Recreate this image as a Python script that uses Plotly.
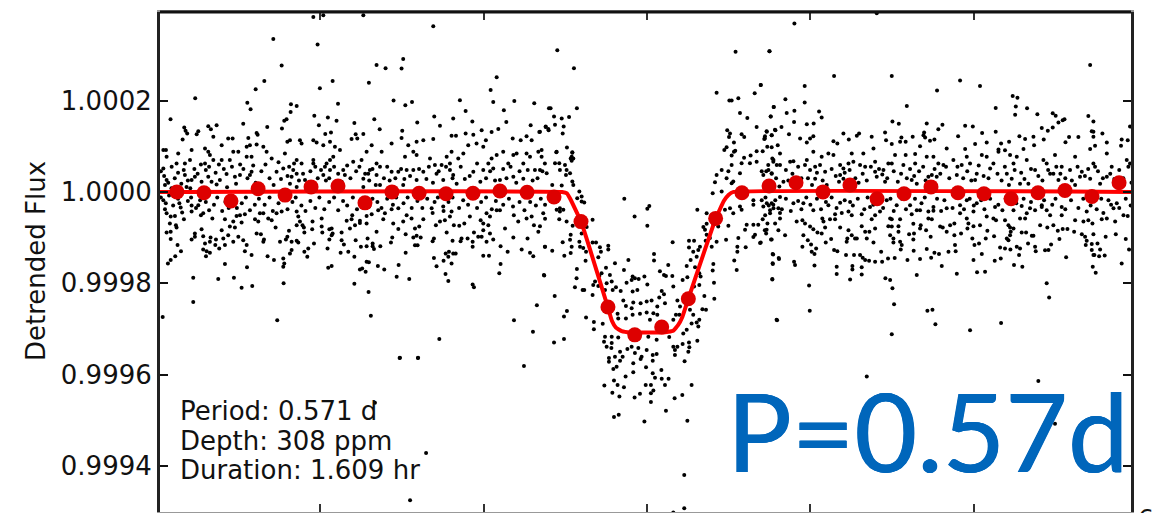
import plotly.graph_objects as go

# All dot values: (hours from mid-transit x 1000, flux offset in ppm)
dots_top_left = [(-2042,383),(-1981,387),(-1736,387),(-1308,363),(-2287,335),(-2016,323),(-2236,277),(-1655,278),(-1600,271),(-1492,291),(-1502,270),(-2342,243),(-1924,243),(-1702,239),(-2395,225),(-2002,227),(-2765,205),(-2446,195),(-2426,181),(-2179,192),(-2144,188),(-2181,175),(-1891,193),(-1551,200),(-1479,190),(-1438,197),(-1145,201),(-1110,177),(-920,251),(-957,223),(-941,197),(-812,199),(-690,194),(-876,179),(-600,183),
(-2916,159),(-2471,149),(-2206,159),(-2220,156),(-2036,167),(-1953,163),(-1900,156),(-1791,151),(-1669,159),(-1302,165),(-1186,161),(-1406,152),(-1069,154),(-861,153),(-1267,145),(-2008,146),(-2324,142),(-2234,139),(-1636,137),(-1498,134),(-2832,141),(-2685,144),(-2634,146),(-2824,134),(-2814,128),(-2746,133),(-2756,126),(-2669,137),(-2654,121),(-2389,129),(-2383,125),(-2440,118),(-1969,127),(-1934,130),(-1783,126),(-1736,127),(-1808,116),(-1773,117),(-712,146),(-620,143),(-604,138),(-910,138),(-1012,135),(-951,131),(-659,131),(-1110,128),(-1063,125),(-1196,123),(-1169,123),(-986,113),(-1308,116),(-1502,118),(-773,113),(-737,122),(-706,113),(-822,117),(-2842,115)]

dots_band_upper_left = [(-2960,92),(-2944,92),(-2940,77),(-2869,84),(-2879,62),(-2909,55),(-2960,51),(-2828,62),(-2797,70),(-2787,92),(-2828,37),(-2787,26),(-2767,33),(-2818,11),(-2940,26),(-2950,15),(-2705,95),(-2685,88),(-2675,81),(-2705,62),(-2654,70),(-2603,102),(-2563,117),(-2536,117),(-2603,70),(-2553,70),(-2501,88),(-2532,88),(-2450,99),(-2430,102),(-2450,77),(-2420,77),(-2389,104),(-2348,99),(-2328,88),(-2297,73),(-2420,44),(-2430,37),(-2491,37),(-2522,33),(-2573,39),(-2614,26),(-2634,16),(-2685,33),(-2726,22),(-2267,44),(-2226,51),(-2216,84),(-2201,110),(-2185,113),(-2124,113),(-2114,106),(-2144,70),(-2114,62),(-2165,48),(-2144,40),(-2175,33),(-2185,18),(-2144,11),(-2042,113),(-2022,108),(-1981,102),(-1940,110),(-1910,99),(-1879,92),(-1920,77),(-1940,70),(-1961,62),(-1971,55),(-2042,62),(-2042,70),(-2093,26),(-1981,37),(-1940,48),(-1859,48),(-1849,37),(-1869,22),(-1798,66),(-1747,70),(-1716,88),(-1685,102),(-1696,48),(-1655,62),(-1634,55),(-1624,88),(-1706,40),(-1736,29),(-1655,37),(-1634,15),(-1563,106),(-1481,77),(-1430,88),(-1461,102),(-1410,110),(-1369,113),(-1410,81),(-1471,48),(-1430,48),(-1369,44),(-1563,44),(-1522,44),(-1328,73),(-1298,59),(-1257,59),(-1196,88),(-1226,77),(-1206,62),(-1155,73),(-1124,84),(-1094,102),(-1043,106),(-1002,99),(-971,62),(-951,73),(-920,81),(-880,88),(-849,62),(-818,81),(-798,84),(-737,84),(-716,77),(-665,88),(-757,62),(-686,48),(-655,48),(-625,62),(-1206,48),(-1186,37),(-1247,26),(-1165,18),(-1002,48),(-941,51),(-900,26),(-818,33),(-757,29),(-1063,44),(-1288,40),(-1410,26),(-1492,15),(-1736,11)]

dots_band_lower_left = [(-2960,-18),(-2950,-38),(-2940,-47),(-2915,-54),(-2889,-53),(-2920,-69),(-2883,-73),(-2879,-78),(-2940,-89),(-2915,-87),(-2915,-103),(-2873,-116),(-2852,-130),(-2887,-141),(-2915,-149),(-2932,-157),(-2777,-188),(-2777,-241),(-2964,-274),(-2834,-60),(-2862,-25),(-2854,-34),(-2787,-30),(-2787,-43),(-2746,-29),(-2716,-47),(-2730,-51),(-2660,-58),(-2726,-82),(-2767,-91),(-2787,-104),(-2767,-98),(-2716,-97),(-2671,-100),(-2675,-109),(-2705,-113),(-2638,-104),(-2642,-116),(-2618,-124),(-2716,-126),(-2695,-130),(-2675,-133),(-2699,-141),(-2583,-158),(-2624,-191),(-2528,-188),(-2481,-210),(-2416,-206),(-2448,-165),(-2420,-138),(-2461,-130),(-2450,-116),(-2471,-106),(-2501,-98),(-2532,-109),(-2583,-116),(-2593,-102),(-2603,-84),(-2563,-95),(-2583,-60),(-2553,-76),(-2522,-78),(-2532,-65),(-2512,-53),(-2491,-51),(-2461,-49),(-2481,-67),(-2399,-60),(-2379,-65),(-2348,-47),(-2369,-47),(-2318,-58),(-2297,-62),(-2389,-91),(-2363,-93),(-2344,-104),(-2348,-109),(-2273,-78),(-2246,-109),(-2210,-104),(-2201,-98),(-2175,-109),(-2144,-107),(-2134,-111),(-2191,-85),(-2267,-47),(-2236,-43),(-2144,-43),(-2134,-54),(-2124,-65),(-2144,-73),(-2108,-73),(-2100,-78),(-2097,-89),(-2047,-65),(-2049,-82),(-1991,-58),(-1991,-76),(-1987,-89),(-1944,-82),(-1930,-80),(-1924,-91),(-1930,-95),(-1944,-104),(-1869,-89),(-1869,-106),(-1855,-115),(-1818,-80),(-1787,-73),(-1808,-60),(-1838,-63),(-1804,-51),(-1757,-63),(-1757,-68),(-1716,-69),(-1716,-53),(-1685,-49),(-1655,-87),(-1710,-102),(-1679,-113),(-1679,-119),(-1716,-119),(-1751,-120),(-1783,-106),(-1671,-125),(-1632,-119),(-1955,-124),(-1875,-133),(-1828,-131),(-1791,-142),(-2038,-113),(-2073,-124),(-2097,-131),(-2079,-142),(-2175,-127),(-2185,-135),(-2322,-141),(-2283,-149),(-2226,-146),(-2220,-157),(-2226,-164),(-2224,-200),(-2263,-281),(-1930,-162),(-1951,-166),(-1757,-170),(-1743,-168),(-1716,-153),(-1702,-154),(-1722,-175),(-1791,-201),(-1704,-219),(-1690,-271),(-1647,-162),(-1608,-170),(-1520,-160),(-1532,-186),(-1455,-191),(-1477,-133),(-1567,-111),(-1559,-100),(-1522,-81),(-1477,-93),(-1420,-80),(-1430,-100),(-1410,-96),(-1420,-117),(-1404,-117),(-1394,-76),(-1385,-100),(-1369,-60),(-1441,-58),(-1471,-51),(-1492,-65),(-1553,-69),(-1614,-60),(-1604,-47),(-1563,-38),(-1522,-36),(-1645,-40),
(-1304,-102),(-1312,-108),(-1292,-73),(-1237,-62),(-1226,-89),(-1190,-107),(-1232,-135),(-1212,-131),(-1186,-135),(-1171,-135),(-1304,-145),(-1245,-151),(-1216,-142),(-1196,-157),(-1288,-163),(-1233,-180),(-1216,-195),(-1182,-73),(-1149,-74),(-1118,-69),(-1135,-102),(-1141,-108),(-1098,-102),(-1067,-109),(-1067,-120),(-1059,-89),(-1018,-62),(-1002,-84),(-1033,-98),(-1012,-98),(-982,-109),(-941,-104),(-896,-119),(-1002,-140),(-967,-140),(-896,-158),(-904,-178),(-853,-131),(-767,-126),(-716,-133),(-696,-141),(-629,-183),(-1067,-203),(-1059,-209),(-814,-281),(-674,-248),(-698,-306),(-1271,-322),(-1514,-364),(-1402,-364),(-753,-381),(-971,-73),(-961,-91),(-920,-40),(-869,-80),(-818,-100),(-900,-40),(-815,-51),(-788,-65),(-737,-58),(-706,-54),(-692,-73),(-665,-87),(-655,-75),(-625,-120),(-731,-102),(-982,-47),(-961,-54),(-1002,-69),(-1084,-54),(-1196,-43),(-1206,-54),(-1247,-32),(-1318,-36),(-1312,-46),(-1267,-65),
(-1665,-462),(-1450,-675),(-1352,-572),(-1512,-363),(-1401,-363)]

dots_near_line_left = [(-2975,45),(-2955,35),(-2930,20),(-2910,8),(-2890,30),(-2870,42),(-2850,18),(-2835,48),(-2810,25),(-2795,8),(-2770,50),(-2750,40),(-2730,60),(-2700,48),(-2680,55),(-2665,22),(-2640,42),(-2620,60),(-2590,50),(-2570,10),(-2540,55),(-2515,18),(-2490,60),(-2470,50),(-2445,30),(-2410,58),(-2395,20),(-2360,45),(-2335,60),(-2310,30),(-2285,15),(-2255,65),(-2240,28),(-2200,35),(-2190,55),(-2160,62),(-2130,25),(-2105,40),(-2080,12),(-2060,45),(-2030,55),(-2015,30),(-1995,48),(-1965,25),(-1945,30),(-1915,55),(-1890,40),(-1835,58),(-1815,30),(-1780,45),(-1760,55),(-1725,40),(-1700,25),(-1680,50),(-1660,15),(-1610,30),(-1590,55),(-1575,25),(-1540,30),(-1505,50),(-1485,28),(-1450,35),(-1395,50),(-1350,28),(-1335,55),(-1310,20),(-1275,45),(-1230,55),(-1190,30),(-1140,55),(-1115,28),(-1085,35),(-1040,62),(-1020,22),(-985,30),(-960,45),(-930,25),(-880,50),(-860,30),(-835,55),(-800,20),(-780,45),(-730,48),(-700,25),(-670,30),(-640,45),
(-2975,-12),(-2945,-25),(-2925,-8),(-2900,-30),(-2870,-15),(-2845,-45),(-2810,-20),(-2790,-12),(-2760,-35),(-2735,-18),(-2700,-22),(-2680,-40),(-2650,-28),(-2630,-12),(-2600,-42),(-2580,-22),(-2560,-35),(-2540,-15),(-2510,-35),(-2480,-25),(-2455,-12),(-2430,-40),(-2400,-28),(-2375,-15),(-2340,-28),(-2310,-12),(-2290,-42),(-2255,-25),(-2230,-15),(-2200,-38),(-2170,-22),(-2150,-12),(-2115,-30),(-2090,-42),(-2060,-20),(-2030,-35),(-2005,-12),(-1975,-38),(-1945,-22),(-1915,-12),(-1890,-40),(-1860,-20),(-1835,-30),(-1800,-12),(-1775,-38),(-1745,-20),(-1700,-32),(-1680,-15),(-1650,-22),(-1625,-35),(-1590,-15),(-1555,-28),(-1535,-12),(-1490,-25),(-1465,-12),(-1440,-35),(-1405,-20),(-1375,-35),(-1345,-15),(-1300,-22),(-1280,-12),(-1245,-42),(-1215,-22),(-1190,-12),(-1150,-35),(-1125,-18),(-1095,-28),(-1070,-12),(-1040,-35),(-1015,-22),(-985,-12),(-950,-38),(-925,-20),(-880,-28),(-845,-15),(-820,-32),(-780,-22),(-750,-40),(-715,-22),(-680,-30),(-650,-15)]

dots_transit = [(-139,-15),(14,-31),(2,-37),(-76,-54),(2,-74),(157,-110),(43,-136),(43,-150),(-114,-149),(130,-160),(-196,-156),(-251,-166),(-141,-171),(79,-174),(104,-182),(116,-184),(155,-184),(-16,-185),(-88,-185),(-74,-189),(-51,-191),(-94,-193),(-125,-199),(2,-203),(161,-207),(218,-193),(247,-187),(-59,-215),(-88,-218),(90,-217),(104,-224),(75,-231),(-161,-217),(-190,-209),(-216,-196),(-227,-182),(-247,-200),(-278,-178),(-292,-184),(-318,-196),(-329,-204),(-298,-206),(-257,-215),(-210,-215),(-333,-226),(-394,-215),(-441,-209),(-384,-215),(-431,-189),(-429,-169),(-631,-182),(-565,-228),(-490,-261),(-508,-273),(-569,-330),(-508,-322),(-373,-275),(-325,-285),(-325,-301),(-271,-289),(-180,-267),(-176,-277),(-145,-238),(-129,-250),(-84,-242),(-94,-255),(-39,-244),(-2,-240),(28,-238),(63,-251),(39,-266),(63,-269),(-2,-264),(-43,-267),(-88,-269),(-129,-277),(18,-280),(110,-244),(186,-238),(202,-251),(177,-269),(198,-269),(161,-280),(263,-258),(283,-269),(339,-257),(361,-258),(320,-280),(304,-286),(273,-288),(314,-295),(243,-302),(222,-310),(308,-326),(257,-330),(218,-333),(259,-340),(253,-350),(230,-371),(186,-339),(161,-339),(171,-346),(171,-357),(136,-318),(59,-324),(8,-317),(-49,-320),(-94,-339),(-120,-344),(-53,-342),(-2,-346),(35,-357),(59,-355),(-33,-361),(-74,-353),(-84,-375),(-39,-366),(35,-370),(-165,-350),(-149,-361),(-165,-370),(-233,-372),(-233,-364),(-196,-361),(-186,-383),(-206,-388),(-216,-317),(-257,-317),(-263,-328),(-216,-331),(-247,-339),(-218,-342),(-176,-319),(-6,-384),(-84,-395),(-131,-404),(35,-397),(88,-390),(49,-407),(90,-409),(132,-409),(110,-423),(-202,-413),(-180,-423),(-141,-428),(-261,-424),(-8,-423),(24,-423),(39,-435),(24,-441),(-212,-440),(-169,-448),(-76,-450),(-43,-442),(24,-460),(169,-452),(216,-445),(273,-423),(116,-479),(247,-501),(-202,-493),(-173,-488),(-16,-503),(228,-620),(228,-693),(161,-702)]

dots_ingress = [(-553,88),(-457,87),(-461,77),(-461,68),(-563,63),(-537,63),(-502,59),(-533,48),(-492,48),(-471,41),(-496,37),(-614,41),(-457,23),(-451,15),(-522,14),(-580,15),(-414,1),(-400,-10),(-427,-14),(-384,-23),(-400,-21),(-533,-36),(-512,-39),(-553,-39),(-533,-43),(-624,-28),(-635,-47),(-624,-59),(-537,-60),(-492,-65),(-455,-74),(-333,-61),(-369,-77),(-400,-91),(-467,-94),(-471,-105),(-516,-110),(-414,-109),(-333,-111),(-312,-111),(-390,-123),(-373,-131),(-410,-120),(-461,-120),(-624,-120),(-580,-129),(-467,-134),(-506,-140),(-288,-121),(-282,-131),(-237,-118),(-237,-126),(-298,-143),(-376,-151),
(-549,310),(-447,271),(-590,183),(-429,183),(-569,165),(-522,161),(-477,164),(-620,142),(-563,147),(-510,143),(-602,135),(-516,128),(-655,132),(-645,92),(-490,97),(-555,87),(-457,86),(-645,77),(-467,73),(-451,73)]

dots_egress = [(308,-39),(365,-47),(345,-77),(365,-70),(355,-83),(406,-72),(436,-76),(498,-74),(365,-94),(385,-101),(426,-109),(484,-105),(257,-107),(288,-107),(359,-107),(324,-120),(396,-120),(257,-122),(283,-131),(314,-127),(267,-149),(304,-142),(294,-165),(243,-162),(406,-158),(402,-172),(320,-178),(328,-185),(410,-199),(320,-204),(288,-207),(351,-228),(412,-234),(534,-150),(549,-171),(553,-131),(553,-120),(604,-121),(559,-101),(651,-99),(692,-112),(769,-136),(806,-145),(769,-156),(767,-191),(793,-280),(763,-104),
(416,21),(402,-3),(457,1),(426,37),(457,48),(498,45),(518,59),(487,30),(528,23),(569,41),(518,19),(579,63),(630,63),(671,66),(742,59),(702,45),(763,41),(773,66),(814,59),(651,-18),(569,-32),(508,-36),(528,-47),(477,-39),(579,-39),(651,-28),(712,-32),(753,-47),(773,-28),(804,-36),(610,-72),(651,-72),(681,-72),(732,-83),(600,-83),(661,-94),
(542,307),(750,308),(696,234),(426,217),(659,216),(559,205),(504,200),(518,200),(775,186),(569,173),(614,162),(757,165),(671,142),(491,135),(732,133),(783,136),(508,128),(579,126),(595,120),(502,120),(722,122),(763,124),(718,116),(532,108),(487,98),(473,92),(540,90),(532,88),(518,80),(594,75),(634,80),(671,89),(708,89),(736,99),(763,98),(800,102),(767,73)]

dots_top_right = [(1406,391),(902,369),(749,308),(1145,254),(1498,254),(1916,244),(2038,232),(965,232),(1775,222),(696,234),(2712,278),(2238,210),(2267,206),(2257,187),(2134,184),(2326,183),(2253,169),(2389,170),(2483,172),(2501,167),(2555,159),(2544,157),(2518,152),(2701,166),(2732,154),(847,203),(965,196),(776,186),(902,178),(855,173),(1053,176),(757,165),(1069,163),(1590,188),(1502,154),(1541,149),(1712,150),(1808,147),(1783,137),(1947,145),(1994,143),(2051,129),(2134,132),(2416,140),(2453,134),(2483,141),(2956,143),(2722,133),(2732,132),(2787,128),(823,142),(786,135),(733,132),(900,153),(978,148),(1020,150),(1202,128),(1298,128),(1284,123),(1457,130),(1696,130),(1626,121),(1904,122),(1692,124),(1702,119),(2279,122),(2314,116),(2365,121),(2428,115),(2583,120),(2640,120),(2561,109),(2905,115),(2942,113),(2901,101),(2814,108),(2732,121),(2712,94),(2742,101),
(869,126),(721,117),(763,124),(1018,122),(998,117),(937,117),(978,108),(1141,111),(1165,106),(1235,115),(1375,121),(1463,113),(1498,105),(1557,119),(1549,110),(1583,110),(1386,95),(1671,100),(1732,112),(1759,115),(1834,95),(1947,94),(2008,105),(2079,108),(2167,106),(2216,110),(2304,94),(2369,102),(2151,93),(2191,91)]

dots_band_upper_right = [(774,70),(794,59),(743,48),(763,40),(712,37),(814,84),(733,22),(835,22),(876,66),(896,67),(978,70),(967,59),(998,48),(1029,55),(1059,59),(1090,44),(1029,29),(1018,88),(1069,77),(1110,84),(1141,81),(1182,59),(1202,51),(1233,62),(1263,66),(1304,59),(1335,55),(1182,37),(1202,29),(1253,84),(1324,84),(1396,66),(1396,44),(1447,48),(1477,62),(1498,62),(1406,33),(1457,22),(1518,81),(1569,59),(1583,81),(1641,83),(1641,62),(1712,77),(1753,77),(1783,62),(1814,59),(1620,26),(1651,18),(1743,37),(1722,33),(1773,33),(1896,37),(1875,70),(1957,77),(1977,62),(1926,59),(2018,40),(2008,26),(2049,81),(2079,77),(2100,51),(2120,62),(2151,88),(2222,81),(2263,77),(2243,62),(2324,70),(2202,40),(2232,29),(2283,18),(2334,18),(2375,48),(2426,70),(2446,62),(2497,81),(2538,55),(2467,40),(2487,40),(2518,26),(2589,48),(2620,77),(2661,44),(2650,33),(2742,55),(2814,33),(2844,55),(2936,70),(2946,55),(2956,62),(2814,84),(2732,62),(2712,29),(2773,18),(2620,15)]

dots_band_lower_right = [(702,-18),(733,-25),(763,-25),(774,-36),(723,-51),(753,-40),(814,-46),(814,-58),(737,-69),(784,-69),(708,-60),(721,-84),(729,-91),(804,-84),(759,-104),(696,-111),(845,-95),(772,-137),(808,-147),(770,-158),(767,-192),(796,-281),(900,-153),(906,-160),(992,-205),(996,-260),(1025,-161),(951,-120),(1004,-115),(1035,-124),(1008,-131),(1025,-136),(957,-95),(984,-106),(916,-65),(951,-62),(967,-69),(998,-76),(1018,-82),(1043,-89),(1073,-58),(1080,-65),(1090,-78),(1069,-91),(1094,-111),(1127,-103),(1120,-60),(1151,-60),(1145,-127),(1165,-130),(1182,-78),(1151,-49),(1192,-46),(1233,-84),(1253,-95),(1226,-102),(1222,-109),(1273,-102),(1284,-102),(1218,-138),(1267,-138),(1161,-164),(1161,-180),(1257,-162),(1257,-170),(1314,-165),(1314,-181),(1243,-192),(1304,-138),(1320,-144),(1335,-149),(1359,-151),(1396,-153),(1433,-131),(1439,-153),(1475,-146),(1516,-145),(1459,-189),(1488,-193),(1502,-211),(1512,-246),(1498,-312),(1345,-404),(1345,-102),(1386,-111),(1335,-87),(1361,-87),(1314,-75),(1396,-80),(1375,-60),(1396,-51),(1314,-49),(1233,-43),(1253,-51),(1426,-43),(1477,-75),(1498,-76),(1488,-58),(1498,-60),(1549,-60),(1539,-75),(1539,-87),(1488,-95),(1508,-102),(1508,-111),(1559,-116),(1549,-109),(1553,-126),(1594,-149),(1632,-129),(1671,-147),(1651,-182),(1739,-144),(1712,-125),(1759,-133),(1787,-136),(1804,-162),(1716,-260),(1747,-258),(1765,-290),(1845,-131),(1889,-130),(1885,-116),(1896,-179),(1604,-93),(1634,-91),(1630,-104),(1675,-73),(1671,-80),(1708,-84),(1736,-98),(1630,-70),(1722,-58),(1743,-60),(1620,-49),(1651,-40),(1722,-43),(1753,-41),(1794,-76),(1810,-78),(1855,-73),(1881,-69),(1834,-87),(1881,-95),(1922,-91),(1961,-80),(1998,-75),(1967,-69),(1916,-47),(1998,-43),(1957,-58),(2038,-73),(2083,-85),(1991,-102),(2004,-116),(2032,-113),(2073,-102),(2124,-97),(2049,-136),(1998,-149),(2128,-151),(2165,-146),(2161,-122),(2191,-124),(2224,-126),(2020,-176),(2069,-175),(2167,-287),(1977,-303),(2246,-160),(2297,-164),(2277,-138),(2263,-120),(2283,-124),(2332,-113),(2375,-120),(2379,-130),(2436,-128),(2457,-127),(2473,-115),(2565,-143),(2446,-200),(2461,-231),(2395,-414),(2202,-102),(2212,-106),(2191,-62),(2212,-73),(2222,-78),(2243,-80),(2226,-87),(2222,-95),(2293,-89),(2320,-89),(2355,-96),(2365,-96),(2120,-58),(2136,-62),(2079,-54),(2283,-58),(2314,-58),(2324,-47),(2375,-40),(2416,-33),(2446,-40),(2467,-51),(2406,-73),(2450,-78),(2487,-73),(2514,-85),(2544,-81),(2573,-81),(2614,-87),(2524,-103),(2661,-93),(2681,-98),(2691,-107),(2685,-116),(2722,-114),(2757,-113),(2732,-93),(2807,-98),(2869,-93),(2930,-103),(2732,-138),(2738,-138),(2773,-126),(2767,-141),(2801,-139),(2728,-164),(2746,-177),(2905,-157),(2950,-126),(2722,-127),(2538,-51),(2620,-62),(2671,-65),(2701,-62),(2726,-69),(2793,-46),(2783,-60),(2814,-58),(2865,-65),(2916,-51),(2942,-53),(2855,-36),(2875,-25),(2824,-18),(2752,-38),(2691,-43),(2538,-33),(2416,-29),(2344,-36),(2293,-31),(2243,-40),(2130,-33),(2018,-25),(1957,-18),(1916,-29),(1834,-36),(1753,-33),(1671,-40),(1610,-29),(1528,-29),(1467,-18),(1365,-33),(1243,-22),(1182,-24),(1110,-29),(1018,-40),(957,-25),(896,-25),(814,-11),(2497,-508)]

dots_near_line_right = [(730,45),(755,18),(790,30),(810,12),(850,48),(865,25),(890,40),(925,55),(945,30),(985,30),(1010,15),(1040,42),(1075,25),(1100,15),(1130,50),(1155,35),(1175,22),(1210,42),(1240,48),(1275,30),(1295,20),(1320,40),(1345,25),(1370,55),(1420,50),(1440,38),(1470,30),(1510,45),(1535,22),(1555,40),(1590,30),(1610,50),(1635,35),(1665,45),(1690,55),(1705,25),(1760,50),(1795,40),(1830,55),(1850,30),(1900,55),(1935,30),(1960,45),(1985,25),(2030,58),(2060,35),(2090,30),(2145,40),(2170,25),(2190,55),(2215,15),(2250,48),(2290,42),(2310,28),(2350,50),(2395,35),(2420,25),(2455,48),(2505,55),(2530,40),(2560,30),(2600,25),(2635,55),(2680,35),(2700,50),(2760,45),(2790,30),(2835,40),(2860,28),(2890,48),(2915,30),(2965,20),(2975,48),
(725,-12),(745,-30),(785,-18),(825,-38),(850,-15),(880,-42),(925,-20),(945,-38),(975,-12),(1000,-28),(1040,-15),(1065,-38),(1095,-22),(1130,-12),(1160,-35),(1210,-18),(1260,-30),(1290,-15),(1330,-38),(1350,-12),(1385,-28),(1415,-12),(1445,-35),(1490,-15),(1510,-42),(1560,-15),(1585,-38),(1640,-15),(1680,-25),(1700,-12),(1775,-15),(1800,-42),(1820,-18),(1870,-35),(1895,-12),(1940,-38),(1975,-15),(2000,-30),(2045,-18),(2065,-38),(2100,-15),(2150,-28),(2175,-40),(2195,-15),(2260,-25),(2305,-15),(2350,-22),(2395,-12),(2430,-18),(2480,-28),(2500,-15),(2560,-38),(2595,-18),(2640,-35),(2670,-15),(2715,-30),(2780,-15),(2840,-28),(2890,-35),(2930,-15),(2960,-30)]

bin_hours = [-2877,-2711,-2546,-2380,-2215,-2056,-1891,-1726,-1561,-1395,-1230,-1065,-900,-734,-569,-404,-239,-75,90,253,420,581,747,912,1077,1242,1408,1573,1738,1903,2062,2228,2393,2558,2723,2889]
bin_ppm = [0,-2,-20,7,-7,11,13,-24,0,-3,-4,-3,2,-1,-11,-65,-252,-313,-296,-234,-58,-2,13,20,0,15,-15,-4,11,-2,-4,-15,-2,3,-10,20]

model_hours = [-3000,-520,-490,-470,-404,-241,-215,-190,-155,-100,0,100,160,190,215,253,420,470,500,530,3000]
model_ppm = [0,0,-3,-15,-65,-251,-282,-297,-305,-308,-308,-308,-304,-292,-275,-234,-59,-20,-6,0,0]

y_ticks = [0.9994, 0.9996, 0.9998, 1.0000, 1.0002]
x_ticks = [-2, -1, 0, 1, 2]
info_lines = ["Period: 0.571 d", "Depth: 308 ppm", "Duration: 1.609 hr"]

dots = (dots_top_left + dots_band_upper_left + dots_band_lower_left + dots_near_line_left + dots_transit + dots_ingress
        + dots_egress + dots_top_right + dots_band_upper_right + dots_band_lower_right + dots_near_line_right)
hours = [p[0] / 1000 for p in dots]
flux = [1 + p[1] * 1e-6 for p in dots]

W, H = 1157, 513
L, R, T, B = 160, 1131, 12, 512
FONT = "DejaVu Sans"
BLUE = "#0066bb"
def px(x): return (x - L) / (R - L)
def py(y): return 1 - (y - T) / (B - T)

fig = go.Figure()
fig.add_trace(go.Scatter(x=hours, y=flux, mode="markers", marker=dict(size=4, color="black", line=dict(width=0)), showlegend=False))
fig.add_trace(go.Scatter(x=[v / 1000 for v in model_hours], y=[1 + v * 1e-6 for v in model_ppm], mode="lines",
                         line=dict(color="#ff0000", width=4, shape="spline", smoothing=0.3), showlegend=False))
fig.add_trace(go.Scatter(x=[v / 1000 for v in bin_hours], y=[1 + v * 1e-6 for v in bin_ppm], mode="markers",
                         marker=dict(size=15, color="#dd0000", line=dict(width=0)), showlegend=False))

annotations = []
for text, yc in zip(info_lines, [411, 441, 470]):
    annotations.append(dict(text=text, xref="paper", yref="paper", x=px(178), y=py(yc), xanchor="left", yanchor="middle",
                            showarrow=False, font=dict(family=FONT, size=26, color="#111111")))
annotations.append(dict(text="Detrended Flux", xref="paper", yref="paper", x=px(36), y=py(261), xanchor="center", yanchor="middle",
                        textangle=-90, showarrow=False, font=dict(family=FONT, size=26, color="#111111")))
annotations.append(dict(text="P=0.57d", xref="paper", yref="paper", x=px(927), y=py(430), xanchor="center", yanchor="middle",
                        showarrow=False, font=dict(family="Lato", size=108, color=BLUE,
                                                   shadow=f"0.5px 0 0 {BLUE}, -0.5px 0 0 {BLUE}")))
annotations.append(dict(text="6", xref="paper", yref="paper", x=px(1146), y=py(502), xanchor="center", yanchor="top",
                        showarrow=False, font=dict(family=FONT, size=25, color="#111111")))

fig.update_layout(
    width=W, height=H, margin=dict(l=L, r=W - R, t=T, b=H - B), autosize=False,
    paper_bgcolor="white", plot_bgcolor="white", showlegend=False, annotations=annotations,
    xaxis=dict(range=[(L - 647) / 163.4, (R - 647) / 163.4], tickvals=x_ticks, showticklabels=False, ticks="inside",
               ticklen=8, tickwidth=1.5, tickcolor="#333333", showgrid=False, zeroline=False, showline=True,
               linecolor="#999999", linewidth=1.5, mirror="ticks"),
    yaxis=dict(range=[1 - 701e-6, 1 + 394e-6], tickvals=y_ticks, ticktext=[f"{v:.4f}" for v in y_ticks], ticks="inside",
               ticklen=8, tickwidth=1.5, tickcolor="#111111", showgrid=False, zeroline=False, showline=True,
               linecolor="#222222", linewidth=3, mirror="ticks", tickfont=dict(family=FONT, size=26, color="#111111")),
    shapes=[dict(type="line", xref="paper", yref="paper", x0=0, x1=1, y0=1, y1=1, line=dict(color="#111111", width=3))],
)
fig.write_html("out.html", config=dict(displayModeBar=False), post_script="document.body.style.margin='0';")
